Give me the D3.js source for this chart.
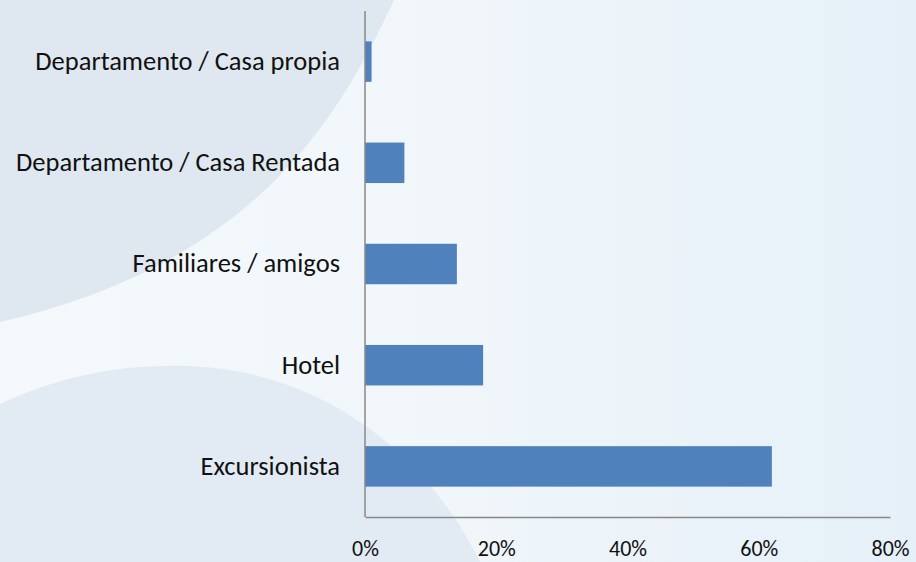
<!DOCTYPE html>
<html>
<head>
<meta charset="utf-8">
<script src="https://cdn.jsdelivr.net/npm/d3@7"></script>
<style>
  html, body { margin: 0; padding: 0; overflow: hidden; }
  svg { display: block; }
</style>
</head>
<body>
<div id="chart"></div>
<script>
// categories top to bottom, with share of visitors
const categories = ['Departamento / Casa propia', 'Departamento / Casa Rentada', 'Familiares / amigos', 'Hotel', 'Excursionista'];
const values = [0.01, 0.06, 0.14, 0.18, 0.62];
const tickValues = [0, 0.2, 0.4, 0.6, 0.8];

const width = 916, height = 562;
const margin = { top: 11, right: 26, bottom: 45, left: 365 };

const svg = d3.select('#chart').append('svg')
    .attr('width', width)
    .attr('height', height);

// --- background ---
const defs = svg.append('defs');
const grad = defs.append('linearGradient').attr('id', 'bg').attr('x1', 0).attr('x2', 1).attr('y1', 0).attr('y2', 0);
grad.append('stop').attr('offset', 0).attr('stop-color', '#f5f9fc');
grad.append('stop').attr('offset', 0.5).attr('stop-color', '#f0f6fa');
grad.append('stop').attr('offset', 1).attr('stop-color', '#e5f0f8');

svg.append('rect').attr('width', width).attr('height', height).attr('fill', 'url(#bg)');
svg.append('path')
    .attr('d', 'M0,0 L394,0 C342,110 262,262 0,322 Z')
    .attr('fill', '#dfe8f0');
svg.append('path')
    .attr('d', 'M0,404 C60,376 120,364 190,366 C330,372 430,460 480,562 L0,562 Z')
    .attr('fill', '#e2ebf3');

// --- scales ---
const x = d3.scaleLinear()
    .domain([0, 0.8])
    .range([margin.left, width - margin.right]);

const y = d3.scaleBand()
    .domain(categories)
    .range([margin.top, height - margin.bottom])
    .paddingInner(0.6)
    .paddingOuter(0.3);

// --- bars ---
svg.append('g')
    .selectAll('rect')
    .data(categories)
    .enter().append('rect')
    .attr('x', x(0))
    .attr('y', d => y(d))
    .attr('width', (d, i) => x(values[i]) - x(0))
    .attr('height', y.bandwidth())
    .attr('fill', '#4f81bd');

// --- axes ---
const fontFamily = 'Carlito, Calibri, Lato, sans-serif';

const yAxis = svg.append('g')
    .attr('transform', `translate(${margin.left},0)`)
    .call(d3.axisLeft(y).tickSize(0).tickPadding(25));
yAxis.select('.domain').attr('stroke', '#888').attr('stroke-width', 1.5)
    .attr('d', `M0,${margin.top}V${height - margin.bottom}`);
yAxis.selectAll('text')
    .style('font-family', fontFamily)
    .style('font-size', '26.5px')
    .attr('fill', '#111');

const xAxis = svg.append('g')
    .attr('transform', `translate(0,${height - margin.bottom})`)
    .call(d3.axisBottom(x).tickValues(tickValues).tickFormat(d3.format('.0%')).tickSize(0));
xAxis.select('.domain').attr('stroke', '#888').attr('stroke-width', 1.5);
xAxis.selectAll('text')
    .attr('dy', null)
    .attr('y', 39)
    .style('font-family', fontFamily)
    .style('font-size', '22px')
    .attr('fill', '#111');
</script>
</body>
</html>
